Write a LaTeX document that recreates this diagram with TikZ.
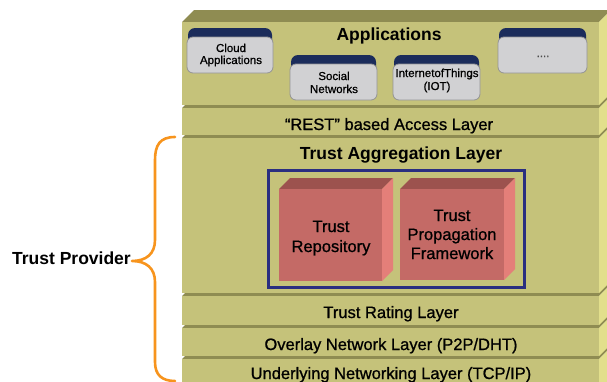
\documentclass[tikz,border=0pt]{standalone}
\usepackage{fontspec}
\setmainfont{Liberation Sans}
\newfontfamily\labelfont[FakeBold=0.9]{Liberation Sans}

% colours of the layer stack
\definecolor{slabfront}{HTML}{C5C27A}
\definecolor{slabtop}{HTML}{8F8C52}
\definecolor{slabside}{HTML}{E2DF8C}
% colours of the trust components
\definecolor{cubefront}{HTML}{C46A66}
\definecolor{cubetop}{HTML}{9C524E}
\definecolor{cubeside}{HTML}{E47F79}
\definecolor{framenavy}{HTML}{2A2E80}
\definecolor{tabnavy}{HTML}{1B2C5B}
\definecolor{appgray}{HTML}{D1D1D3}
\definecolor{appedge}{HTML}{939395}
\definecolor{braceorange}{HTML}{F7941D}

% one layer of the stack: front top y, front bottom y
\newcommand{\layerslab}[2]{%
  \fill[slabtop] (182,#1) -- (194,#1-12) -- (611,#1-12) -- (599,#1) -- cycle;
  \fill[slabside] (599,#1) -- (611,#1-12) -- (611,#2-12) -- (599,#2) -- cycle;
  \fill[slabfront] (182,#1) rectangle (599,#2);
}
% a block drawn in perspective: x1, y1 (front top left), x2, y2 (front bottom right)
\newcommand{\trustcube}[4]{%
  \fill[cubetop] (#1,#2) -- (#1+11,#2-11) -- (#3+11,#2-11) -- (#3,#2) -- cycle;
  \fill[cubeside] (#3,#2) -- (#3+11,#2-11) -- (#3+11,#4-11) -- (#3,#4) -- cycle;
  \fill[cubefront] (#1,#2) rectangle (#3,#4);
}
% an application card with a dark tab: x1, tab top y, x2, bottom y
\newcommand{\appcard}[4]{%
  \fill[tabnavy, rounded corners=7pt] (#1+1,#2) rectangle (#3-1,#2+20);
  \filldraw[fill=appgray, draw=appedge, line width=0.8pt, rounded corners=6pt]
    (#1,#2+9) rectangle (#3,#4);
}

\begin{document}
\begin{tikzpicture}[x=1pt,y=-1pt,
  lbl/.style={font=\labelfont\fontsize{16.5}{20}\selectfont, anchor=base, inner sep=0pt},
  ttl/.style={font=\bfseries\fontsize{17.5}{21}\selectfont, anchor=base, inner sep=0pt},
  small/.style={font=\labelfont\fontsize{11.5}{14}\selectfont, anchor=base, inner sep=0pt},
  bracepath/.style={draw=braceorange, line width=2.6pt, line cap=round, line join=round},
]
\useasboundingbox (0,0) rectangle (607,381);
\clip (0,0) rectangle (607,381);

% layer stack, lowest first so each upper layer hides the one beneath
\layerslab{359}{420}
\layerslab{328}{356}
\layerslab{296}{325}
\layerslab{138}{293}
\layerslab{108}{135}
\layerslab{22}{105}

% application cards
\appcard{187}{28}{273}{73}
\appcard{290}{55}{377}{100}
\appcard{393}{55}{480}{100}
\appcard{498}{28}{587}{73}

% trust aggregation frame and its components
\draw[framenavy, line width=3pt] (268,170) rectangle (524,287);
\trustcube{279}{189}{382}{281}
\trustcube{400}{189}{504}{280}

% texts
\node[ttl] (apps) at (389,40) {Applications};
\node[small] (cloudA) at (231,52) {Cloud};
\node[small] (cloudB) at (231,64) {Applications};
\node[small] (socialA) at (334,80) {Social};
\node[small] (socialB) at (334,93) {Networks};
\node[small] (iotA) at (437,77) {InternetofThings};
\node[small] (iotB) at (437,90) {(IOT)};
\node[small, text=black!70] (more) at (543,57) {....};

\node[lbl] (rest) at (389,130) {“REST” based Access Layer};
\node[ttl] (agg) at (401,159) {Trust Aggregation Layer};
\node[lbl] (repoA) at (331,232) {Trust};
\node[lbl] (repoB) at (331,252) {Repository};
\node[lbl] (propA) at (452,221) {Trust};
\node[lbl] (propB) at (452,240) {Propagation};
\node[lbl] (propC) at (452,259) {Framework};
\node[lbl] (rating) at (391,318) {Trust Rating Layer};
\node[lbl] (overlay) at (391,350) {Overlay Network Layer (P2P/DHT)};
\node[lbl] (under) at (391,379) {Underlying Networking Layer (TCP/IP)};

% trust provider brace
\node[ttl, anchor=base east] (provider) at (131,264) {Trust Provider};
\coordinate (braceTop) at (175,137);
\coordinate (braceTip) at (132,261);
\coordinate (braceBot) at (175,381);
\draw[bracepath] (braceTop) .. controls (160,137) and (155,145) .. (155,160)
  -- (155,240) .. controls (155,254) and (146,261) .. (braceTip)
  .. controls (146,261) and (155,268) .. (155,282)
  -- (155,362) .. controls (155,375) and (162,381) .. (braceBot);
\end{tikzpicture}
\end{document}
